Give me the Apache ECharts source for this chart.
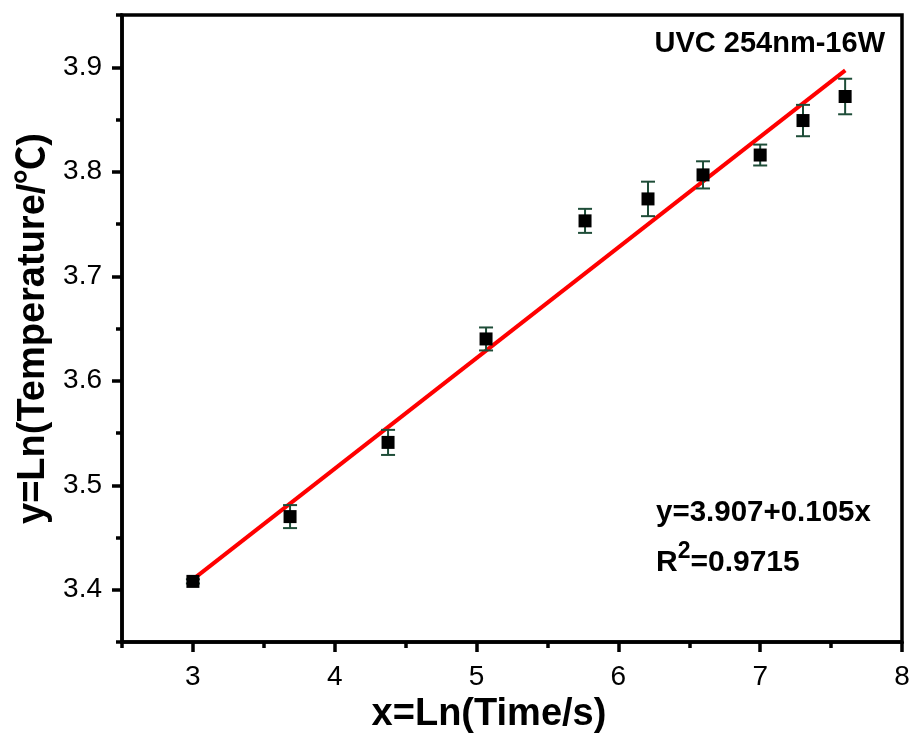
<!DOCTYPE html>
<html>
<head>
<meta charset="utf-8">
<script src="https://cdn.jsdelivr.net/npm/echarts@6/dist/echarts.min.js"></script>
<style>
  html, body { margin: 0; padding: 0; background: #fff; }
  #chart { width: 914px; height: 736px; }
</style>
</head>
<body>
<div id="chart"></div>
<script>
// Measured points: x = ln(time / s), y = ln(temperature / °C), with error half-widths
const xValues = [3.00, 3.685, 4.376, 5.067, 5.765, 6.209, 6.597, 7.000, 7.302, 7.599];
const yValues = [3.408, 3.470, 3.541, 3.640, 3.753, 3.774, 3.797, 3.816, 3.849, 3.872];
const yErrors = [0.002, 0.011, 0.012, 0.011, 0.0115, 0.0165, 0.013, 0.010, 0.015, 0.017];

// Linear fit drawn between the first and last measured x
const fitX = [3.00, 7.60];
const fitY = [3.410, 3.897];

// Axis ticks
const xMajorTicks = [3, 4, 5, 6, 7, 8];
const xMinorTicks = [2.5, 3.5, 4.5, 5.5, 6.5, 7.5];
const yMajorTicks = [3.4, 3.5, 3.6, 3.7, 3.8, 3.9];
const yMinorTicks = [3.35, 3.45, 3.55, 3.65, 3.75, 3.85, 3.95];

const FONT = '"Liberation Sans", Arial, "Noto Sans CJK SC", sans-serif';
const ERR_COLOR = '#1e4d38';

const points = xValues.map((x, i) => [x, yValues[i]]);
const errData = xValues.map((x, i) => [x, yValues[i] - yErrors[i], yValues[i] + yErrors[i]]);
const fitData = fitX.map((x, i) => [x, fitY[i]]);

const chart = echarts.init(document.getElementById('chart'), null, { renderer: 'canvas' });

const axisLine = { show: true, onZero: false, lineStyle: { color: '#000', width: 3.5 } };

chart.setOption({
  animation: false,
  backgroundColor: '#fff',
  grid: {
    left: 122, right: 12, top: 15, bottom: 94,
    outerBoundsMode: 'none', containLabel: false,
    show: true, borderColor: '#000', borderWidth: 3.5, backgroundColor: 'transparent'
  },
  xAxis: [
    {
      type: 'value', min: 2.5, max: 8, position: 'bottom',
      splitLine: { show: false },
      axisLine: axisLine,
      axisTick: { show: true, customValues: xMajorTicks, length: 10, lineStyle: { width: 3.5, color: '#000' } },
      axisLabel: { customValues: xMajorTicks, color: '#000', fontFamily: FONT, fontSize: 28, margin: 21 },
      name: 'x=Ln(Time/s)', nameLocation: 'middle', nameGap: 50,
      nameTextStyle: { fontFamily: FONT, fontSize: 38, fontWeight: 'bold', color: '#000', padding: [0, 46, 0, 0] }
    },
    {
      type: 'value', min: 2.5, max: 8, position: 'bottom', gridIndex: 0,
      splitLine: { show: false },
      axisLine: { show: false, onZero: false },
      axisTick: { show: true, customValues: xMinorTicks, length: 6, lineStyle: { width: 3.5, color: '#000' } },
      axisLabel: { show: false }
    }
  ],
  yAxis: [
    {
      type: 'value', min: 3.35, max: 3.95, position: 'left',
      splitLine: { show: false },
      axisLine: axisLine,
      axisTick: { show: true, customValues: yMajorTicks, length: 10, lineStyle: { width: 3.5, color: '#000' } },
      axisLabel: {
        customValues: yMajorTicks, color: '#000', fontFamily: FONT, fontSize: 28, margin: 20,
        formatter: v => v.toFixed(1)
      },
      name: 'y=Ln(Temperature/\u2103)', nameLocation: 'middle', nameGap: 66, nameRotate: 90,
      nameTextStyle: { fontFamily: FONT, fontSize: 38, fontWeight: 'bold', color: '#000' }
    },
    {
      type: 'value', min: 3.35, max: 3.95, position: 'left',
      splitLine: { show: false },
      axisLine: { show: false, onZero: false },
      axisTick: { show: true, customValues: yMinorTicks, length: 6, lineStyle: { width: 3.5, color: '#000' } },
      axisLabel: { show: false }
    }
  ],
  series: [
    {
      type: 'line', name: 'fit', data: fitData, xAxisIndex: 0, yAxisIndex: 0,
      showSymbol: false, symbol: 'none',
      lineStyle: { color: '#ff0000', width: 4 }, z: 3
    },
    {
      type: 'custom', name: 'error', data: errData, xAxisIndex: 0, yAxisIndex: 0, z: 4,
      renderItem: function (params, api) {
        const x = api.value(0);
        const lo = api.coord([x, api.value(1)]);
        const hi = api.coord([x, api.value(2)]);
        const half = 7;
        const style = { stroke: ERR_COLOR, lineWidth: 2, fill: null };
        return {
          type: 'group',
          children: [
            { type: 'line', shape: { x1: lo[0], y1: lo[1], x2: hi[0], y2: hi[1] }, style: style },
            { type: 'line', shape: { x1: lo[0] - half, y1: lo[1], x2: lo[0] + half, y2: lo[1] }, style: style },
            { type: 'line', shape: { x1: hi[0] - half, y1: hi[1], x2: hi[0] + half, y2: hi[1] }, style: style }
          ]
        };
      }
    },
    {
      type: 'scatter', name: 'data', data: points, xAxisIndex: 0, yAxisIndex: 0,
      symbol: 'rect', symbolSize: 13,
      itemStyle: { color: '#000', opacity: 1 }, z: 5
    }
  ],
  graphic: [
    {
      type: 'text', right: 29, top: 29,
      style: { text: 'UVC 254nm-16W', fontFamily: FONT, fontSize: 29, fontWeight: 'bold', fill: '#000' }
    },
    {
      type: 'text', left: 656, top: 498,
      style: { text: 'y=3.907+0.105x', fontFamily: FONT, fontSize: 29.5, fontWeight: 'bold', fill: '#000' }
    },
    {
      type: 'text', left: 656, top: 540,
      style: {
        text: '{b|R}{s|2}{b|=0.9715}',
        rich: {
          b: { fontFamily: FONT, fontSize: 30, fontWeight: 'bold', color: '#000', verticalAlign: 'bottom', lineHeight: 38 },
          s: { fontFamily: FONT, fontSize: 23, fontWeight: 'bold', color: '#000', verticalAlign: 'top', lineHeight: 38 }
        }
      }
    }
  ]
});
</script>
</body>
</html>
